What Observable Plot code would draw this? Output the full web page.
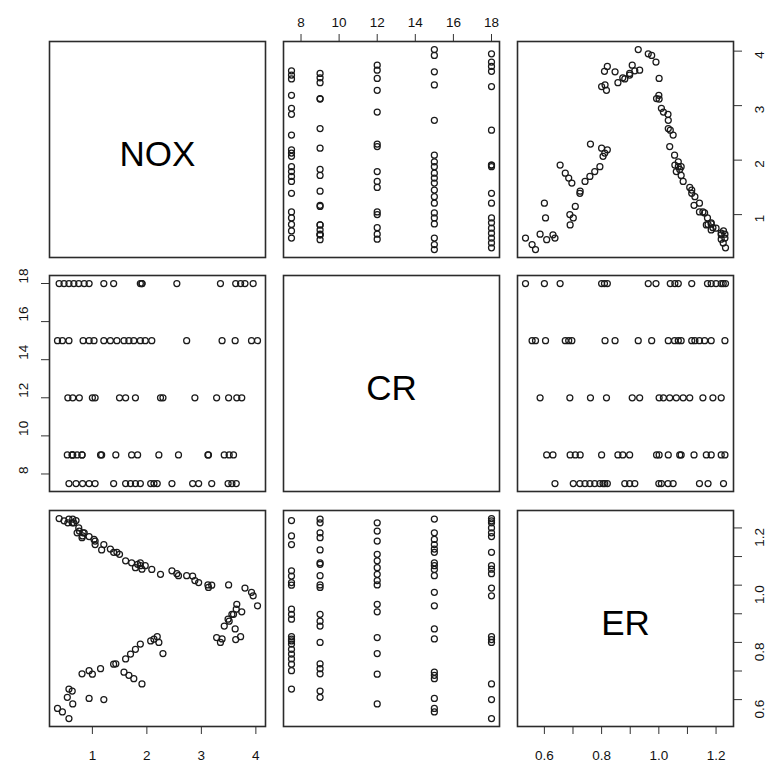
<!DOCTYPE html>
<html><head><meta charset="utf-8">
<script src="https://cdn.jsdelivr.net/npm/d3@7"></script>
<script src="https://cdn.jsdelivr.net/npm/@observablehq/plot@0.6"></script>
<style>
body{margin:0;background:#fff;}
#chart{position:relative;width:773px;height:771px;background:#fff;overflow:hidden;}
#chart svg{position:absolute;}
</style></head><body><div id="chart"></div>
<script>
// variable names (diagonal labels)
const varNames = ["NOX", "CR", "ER"];

const nox = [
  0.70,0.82,1.05,2.46,2.84,2.95,3.19,0.57,0.94,1.39,1.61,1.70,1.79,1.88,2.07,2.13,2.19,3.49,3.56,3.64,
  0.54,0.63,0.81,1.15,1.43,2.22,3.42,3.51,3.59,3.13,3.12,2.58,1.83,1.72,1.17,0.81,0.72,0.63,0.64,
  3.741,2.295,1.498,2.881,0.760,3.65,3.50,3.28,2.25,1.79,1.61,1.00,1.05,0.55,0.64,
  0.45,0.36,0.94,1.76,1.67,1.58,3.38,3.62,4.03,3.92,2.73,2.09,1.97,1.88,1.45,1.33,1.21,1.03,0.83,0.57,
  0.57,1.21,1.91,3.35,3.63,3.72,3.95,3.80,2.55,1.91,1.88,1.39,0.94,0.85,0.75,0.66,0.48,0.39
];
const cr = [
  7.5,7.5,7.5,7.5,7.5,7.5,7.5,7.5,7.5,7.5,7.5,7.5,7.5,7.5,7.5,7.5,7.5,7.5,7.5,7.5,
  9,9,9,9,9,9,9,9,9,9,9,9,9,9,9,9,9,9,9,
  12,12,12,12,12,12,12,12,12,12,12,12,12,12,12,
  15,15,15,15,15,15,15,15,15,15,15,15,15,15,15,15,15,15,15,15,
  18,18,18,18,18,18,18,18,18,18,18,18,18,18,18,18,18,18
];
const er = [
  1.226,1.172,1.142,1.050,1.032,1.009,1.000,0.637,0.701,0.724,0.742,0.759,0.776,0.794,0.805,0.811,0.820,0.881,0.898,0.916,
  0.608,0.630,0.690,0.708,0.725,0.800,0.857,0.874,0.898,0.992,1.001,1.033,1.073,1.078,1.123,1.166,1.183,1.218,1.231,
  0.907,0.761,1.108,1.016,1.189,0.933,1.001,0.817,1.038,1.061,1.085,0.689,1.154,1.218,0.585,
  0.557,0.569,0.604,0.673,0.685,0.696,0.812,0.847,0.928,0.975,1.033,1.055,1.068,1.078,1.115,1.126,1.142,1.160,1.183,1.231,
  0.534,0.600,0.655,0.800,0.810,0.820,0.963,0.990,1.040,1.056,1.068,1.115,1.170,1.183,1.200,1.218,1.225,1.233
];

// axis ticks and labels
const noxTicks = [1, 2, 3, 4];
const noxLabels = [1, 2, 3, 4];
const crTicks = [8, 10, 12, 14, 16, 18];
const crLabels = [8, 10, 12, 14, 16, 18];
const erTicks = [0.6, 0.7, 0.8, 0.9, 1.0, 1.1, 1.2];
const erLabels = [0.6, 0.8, 1.0, 1.2];

const rows = nox.map((d, i) => ({NOX: d, CR: cr[i], ER: er[i]}));

// R-style range: data extent widened by 4% on each side
function rDomain(key) {
  const [a, b] = d3.extent(rows, d => d[key]);
  const p = (b - a) * 0.04;
  return [a - p, b + p];
}
const domains = {NOX: rDomain("NOX"), CR: rDomain("CR"), ER: rDomain("ER")};
const ticks = {NOX: noxTicks, CR: crTicks, ER: erTicks};
const labels = {NOX: noxLabels, CR: crLabels, ER: erLabels};
const fmt = {NOX: d3.format("d"), CR: d3.format("d"), ER: d3.format(".1f")};

// layout
const colX = [49, 283, 517];
const rowY = [41, 275, 510];
const S = 216;
const M = 48;
const FONT = "'Liberation Sans', Arial, Helvetica, sans-serif";

// which outer axes each panel carries (as in R pairs())
function axesFor(r, c) {
  const a = {x: null, y: null};
  if (r === 0 && c === 1) a.x = "top";
  if (r === 2 && (c === 0 || c === 2)) a.x = "bottom";
  if (c === 0 && r === 1) a.y = "left";
  if (c === 2 && (r === 0 || r === 2)) a.y = "right";
  return a;
}

const chart = document.getElementById("chart");

for (let r = 0; r < 3; r++) {
  for (let c = 0; c < 3; c++) {
    const xv = varNames[c], yv = varNames[r];
    const ax = axesFor(r, c);
    const marks = [];
    if (r === c) {
      marks.push(Plot.text([varNames[r]], {
        frameAnchor: "middle", text: d => d, fontSize: 35, fill: "#000", dy: 5, fontFamily: FONT
      }));
    } else {
      marks.push(Plot.dot(rows, {
        x: xv, y: yv, r: 3, stroke: "#1a1a1a", strokeWidth: 1.25, fill: "none"
      }));
    }
    if (ax.x === "top") {
      marks.push(Plot.text(labels[xv], {x: d => d, text: d => fmt[xv](d), frameAnchor: "top", dy: -24, fontSize: 13.5, fill: "#111", fontFamily: FONT}));
    } else if (ax.x === "bottom") {
      marks.push(Plot.text(labels[xv], {x: d => d, text: d => fmt[xv](d), frameAnchor: "bottom", dy: 33, fontSize: 13.5, fill: "#111", fontFamily: FONT}));
    }
    if (ax.y === "left") {
      marks.push(Plot.text(labels[yv], {y: d => d, text: d => fmt[yv](d), frameAnchor: "left", dx: -26, rotate: -90, fontSize: 13.5, fill: "#111", fontFamily: FONT}));
    } else if (ax.y === "right") {
      marks.push(Plot.text(labels[yv], {y: d => d, text: d => fmt[yv](d), frameAnchor: "right", dx: 26, rotate: -90, fontSize: 13.5, fill: "#111", fontFamily: FONT}));
    }
    marks.push(Plot.frame({stroke: "#2b2b2b", strokeWidth: 1.6}));

    const svg = Plot.plot({
      width: S + 2 * M,
      height: S + 2 * M,
      marginTop: M, marginBottom: M, marginLeft: M, marginRight: M,
      style: {background: "transparent", overflow: "visible", fontFamily: FONT, fontSize: "13px", color: "#333"},
      x: {
        domain: domains[xv], nice: false, zero: false, label: null,
        axis: ax.x, ticks: ticks[xv], tickSize: 8, tickFormat: () => ""
      },
      y: {
        domain: domains[yv], nice: false, zero: false, label: null,
        axis: ax.y, ticks: ticks[yv], tickSize: 8, tickFormat: () => ""
      },
      marks
    });
    svg.style.left = (colX[c] - M) + "px";
    svg.style.top = (rowY[r] - M) + "px";
    chart.appendChild(svg);
  }
}
</script>
</body></html>
